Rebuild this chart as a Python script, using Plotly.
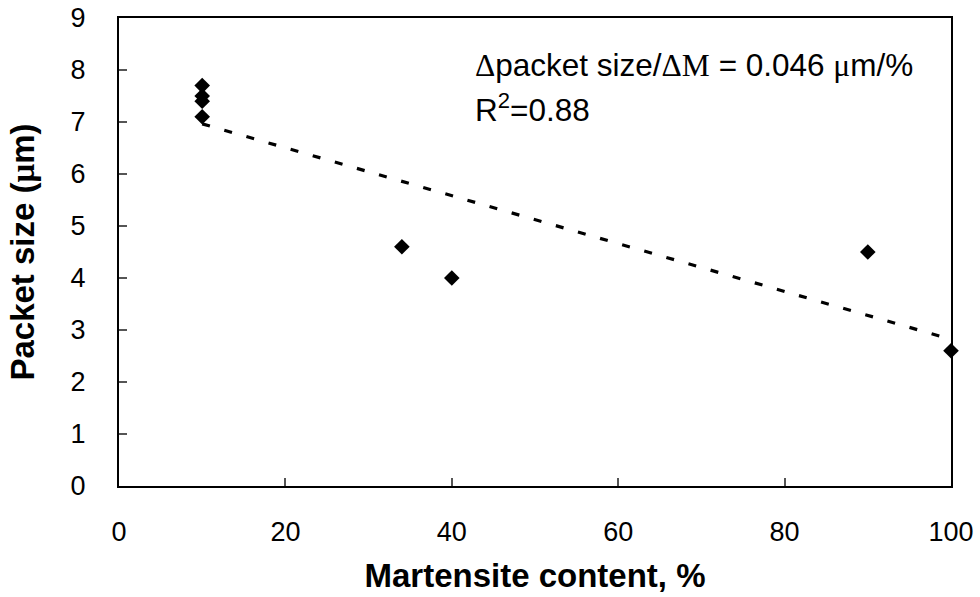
import numpy as np
import plotly.graph_objects as go

# Data
martensite = [10, 10, 10, 10, 34, 40, 90, 100]
packet_size = [7.7, 7.5, 7.4, 7.1, 4.6, 4.0, 4.5, 2.6]
x_ticks = [0, 20, 40, 60, 80, 100]
y_ticks = [0, 1, 2, 3, 4, 5, 6, 7, 8, 9]

# Linear trend line (least squares, as Excel's trendline)
slope, intercept = np.polyfit(martensite, packet_size, 1)
trend_x = [min(martensite), max(martensite)]
trend_y = [slope * v + intercept for v in trend_x]

FONT = "Arial, 'Liberation Sans', sans-serif"
SERIF = "'Times New Roman', 'Liberation Serif', serif"

fig = go.Figure()
fig.add_trace(go.Scatter(
    x=trend_x, y=trend_y, mode="lines",
    line=dict(color="black", width=3.2, dash="8px,15px"),
    hoverinfo="skip", showlegend=False,
))
fig.add_trace(go.Scatter(
    x=martensite, y=packet_size, mode="markers",
    marker=dict(symbol="diamond", size=12, color="black", line=dict(width=0)),
    cliponaxis=False, showlegend=False,
))

axis_common = dict(
    showgrid=False, zeroline=False, automargin=False,
    showline=True, linecolor="black", linewidth=2, mirror=True,
    ticks="inside", ticklen=8, tickwidth=1.5, tickcolor="#555",
    tickfont=dict(family=FONT, size=27, color="black"),
)

fig.update_layout(
    width=980, height=597,
    margin=dict(l=119, r=29, t=18, b=111, autoexpand=False),
    paper_bgcolor="white", plot_bgcolor="white",
    font=dict(family=FONT, color="black"),
    xaxis=dict(
        range=[0, 100], tickvals=x_ticks, ticktext=[str(v) for v in x_ticks],
        ticklabelstandoff=21,
        title=dict(text="<b>Martensite content, %</b>",
                   font=dict(family=FONT, size=33, color="black"), standoff=17),
        **axis_common,
    ),
    yaxis=dict(
        range=[0, 9], tickvals=y_ticks, ticktext=[str(v) for v in y_ticks],
        ticklabelstandoff=26,
        title=dict(text=f"<b>Packet size (<span style=\"font-family:{SERIF}\">μ</span>m)</b>",
                   font=dict(family=FONT, size=33, color="black"), standoff=26),
        **axis_common,
    ),
)

fig.add_annotation(
    x=42.5, y=8.1, xref="x", yref="y", xanchor="left", yanchor="middle",
    text=(f"<span style=\"font-family:{SERIF}\">Δ</span>packet size/"
          f"<span style=\"font-family:{SERIF}\">ΔM</span> = 0.046 "
          f"<span style=\"font-family:{SERIF}\">μ</span>m/%"),
    showarrow=False, font=dict(family=FONT, size=31.5, color="black"),
)
fig.add_annotation(
    x=42.5, y=7.26, xref="x", yref="y", xanchor="left", yanchor="middle",
    text="R<sup>2</sup>=0.88",
    showarrow=False, font=dict(family=FONT, size=31.5, color="black"),
)

fig.write_html("out.html")
